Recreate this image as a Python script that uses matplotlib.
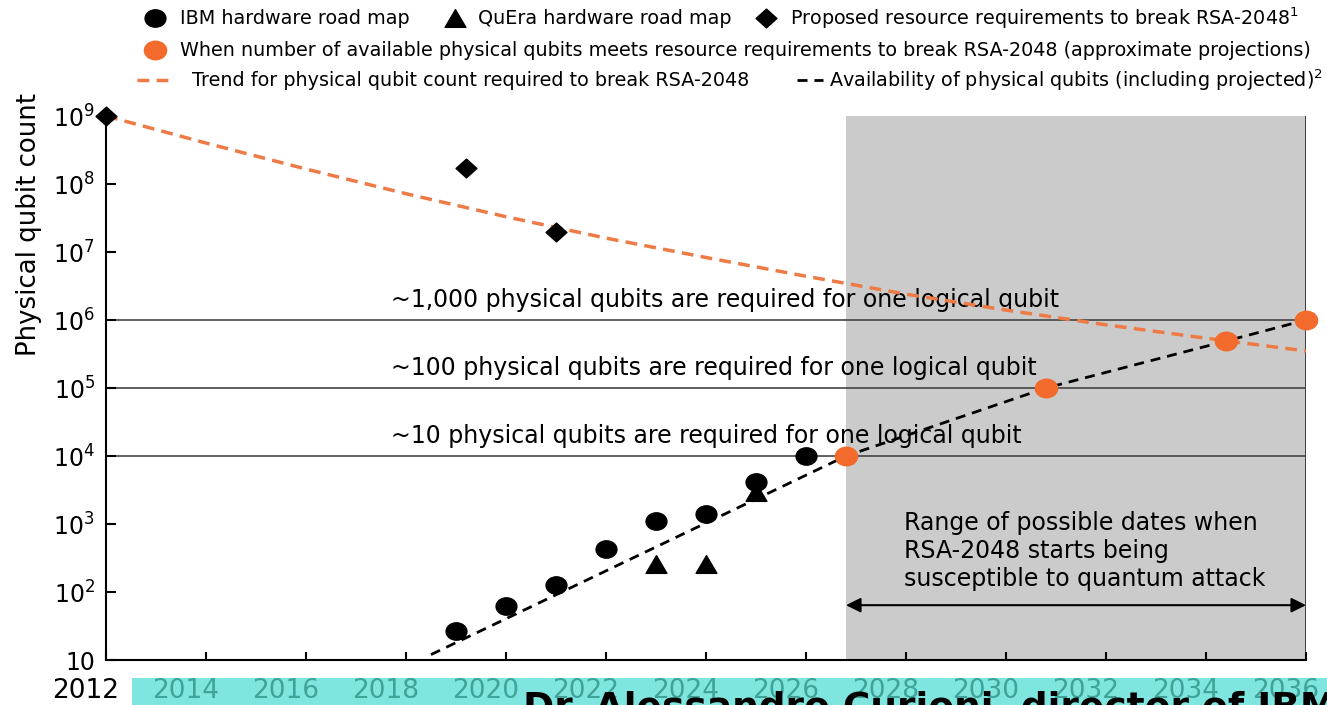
import numpy as np
import matplotlib
matplotlib.use('Agg')
import matplotlib.pyplot as plt
from matplotlib.path import Path
from matplotlib.transforms import Affine2D, ScaledTranslation
from matplotlib.patches import Rectangle
from matplotlib.lines import Line2D

# Datos
ibm_years = [2019, 2020, 2021, 2022, 2023, 2024, 2025, 2026]
ibm_qubits = [27, 62, 125, 433, 1100, 1390, 4150, 10000]

quera_years = [2023, 2024, 2025]
quera_qubits = [256, 256, 3000]

rsa_years = [2012, 2019.2, 2021]
rsa_qubits = [1e9, 1.7e8, 2e7]

meet_years = [2026.8, 2030.8, 2034.4, 2036]
meet_qubits = [1e4, 1e5, 4.9e5, 1e6]

trend_years = [2012, 2014, 2016, 2018, 2020, 2022, 2024,
               2026, 2028, 2030, 2032, 2034, 2036]
trend_qubits = [1e9, 4.0e8, 1.66e8, 7.2e7, 3.3e7, 1.6e7, 8.3e6,
                4.4e6, 2.4e6, 1.4e6, 8.5e5, 5.4e5, 3.5e5]

avail_years = [2018.5, 2026.8, 2030.8, 2034.4, 2036]
avail_qubits = [12, 1e4, 1e5, 4.9e5, 1e6]

thresholds = [1e6, 1e5, 1e4]
threshold_labels = ['~1,000 physical qubits are required for one logical qubit',
                    '~100 physical qubits are required for one logical qubit',
                    '~10 physical qubits are required for one logical qubit']

range_start, range_end = 2026.8, 2036

x_ticks = list(range(2012, 2037, 2))
y_ticks = [10, 1e2, 1e3, 1e4, 1e5, 1e6, 1e7, 1e8, 1e9]
y_ticklabels = ['10', '$10^2$', '$10^3$', '$10^4$', '$10^5$', '$10^6$',
                '$10^7$', '$10^8$', '$10^9$']

orange = '#f26a2c'
orange_line = '#ee7a45'
teal = '#3fa398'
cyan = '#7ee5df'

plt.rcParams.update({
    'font.family': 'DejaVu Sans',
    'axes.linewidth': 1.5,
})

# marcadores algo achatados, como en la imagen original
ellipse = Path.unit_circle().transformed(Affine2D().scale(1.2, 1.0))
tri = Path([(0, 0.85), (-1, -0.85), (1, -0.85), (0, 0.85)],
           [Path.MOVETO, Path.LINETO, Path.LINETO, Path.CLOSEPOLY])
diamond = Path([(0, 0.9), (1, 0), (0, -0.9), (-1, 0), (0, 0.9)],
               [Path.MOVETO, Path.LINETO, Path.LINETO, Path.LINETO, Path.CLOSEPOLY])

orange_dash = (3.4, 2.1)
black_dash = (3.6, 2.5)

W, H = 1327, 705
fig = plt.figure(figsize=(W / 100, H / 100), dpi=100)


def fx(px):
    return px / W


def fy(py):
    return 1 - py / H


ax = fig.add_axes([fx(106), fy(660), fx(1306) - fx(106), fy(116) - fy(660)])
ax.set_yscale('log')
ax.set_xlim(2012, 2036)
ax.set_ylim(10, 1e9)

# zona gris
ax.axvspan(range_start, range_end, color='#cbcbcb', zorder=0, lw=0)
ax.axvline(range_end, color='#333333', lw=1.3, zorder=1)

for yv, lab in zip(thresholds, threshold_labels):
    ax.axhline(yv, color='#444444', lw=1.2, zorder=1)
    ax.text(2017.7, yv * 10**0.19, lab, fontsize=17, ha='left',
            va='baseline', zorder=2)

ax.plot(trend_years, trend_qubits, color=orange_line, lw=2.5,
        dashes=orange_dash, zorder=3, clip_on=False)
ax.plot(avail_years, avail_qubits, color='black', lw=2,
        dashes=black_dash, zorder=3)

ax.plot(ibm_years, ibm_qubits, ls='none', marker=ellipse, ms=15,
        color='black', zorder=4)
ax.plot(quera_years, quera_qubits, ls='none', marker=tri, ms=15,
        color='black', zorder=4)
ax.plot(rsa_years, rsa_qubits, ls='none', marker=diamond, ms=15,
        color='black', zorder=4, clip_on=False)
ax.plot(meet_years, meet_qubits, ls='none', marker=ellipse, ms=16,
        color=orange, zorder=5, clip_on=False)

# flecha del rango
ax.annotate('', xy=(range_start, 64), xytext=(range_end, 64),
            arrowprops=dict(arrowstyle='<|-|>', color='black', lw=1.5,
                            mutation_scale=22, shrinkA=0, shrinkB=0),
            zorder=5)
ax.text(2027.95, 400,
        'Range of possible dates when\nRSA-2048 starts being\nsusceptible to quantum attack',
        fontsize=17, ha='left', va='center', linespacing=1.22, zorder=5)

ax.spines['top'].set_visible(False)
ax.spines['right'].set_visible(False)

ax.set_yticks(y_ticks)
ax.set_yticklabels(y_ticklabels)
ax.minorticks_off()
ax.tick_params(axis='y', direction='in', length=7, width=1.5,
               labelsize=17, pad=8)

ax.set_xticks(x_ticks)
ax.set_xticklabels([str(y) for y in x_ticks])
ax.tick_params(axis='x', direction='in', length=6, width=1.5,
               labelsize=19, pad=13)
offset = ScaledTranslation(-0.2, 0, fig.dpi_scale_trans)
for i, lab in enumerate(ax.get_xticklabels()):
    lab.set_transform(lab.get_transform() + offset)
    lab.set_color('black' if i == 0 else teal)

ax.set_ylabel('Physical qubit count', fontsize=18.7)
ax.yaxis.set_label_coords(-0.053, 0.80)

# franja cian de subtítulo
fig.add_artist(Rectangle((fx(132), 0), 1 - fx(132), fy(678),
                         transform=fig.transFigure, color=cyan, lw=0,
                         zorder=-1))
fig.text(fx(523), fy(719), 'Dr. Alessandro Curioni, director of IBM Research',
         fontsize=27, fontweight='bold', ha='left', va='baseline')

# leyenda manual
leg_fs = 13.8
rows = [18, 50, 80]
fig.add_artist(Line2D([fx(155)], [fy(rows[0])], marker=ellipse, ms=15,
                      color='black', ls='none'))
fig.text(fx(180), fy(rows[0]), 'IBM hardware road map', fontsize=leg_fs,
         va='center')
fig.add_artist(Line2D([fx(455)], [fy(rows[0])], marker=tri, ms=15,
                      color='black', ls='none'))
fig.text(fx(478), fy(rows[0]), 'QuEra hardware road map', fontsize=leg_fs,
         va='center')
fig.add_artist(Line2D([fx(766)], [fy(rows[0])], marker=diamond, ms=15,
                      color='black', ls='none'))
fig.text(fx(790), fy(rows[0]), 'Proposed resource requirements to break RSA-2048$^1$',
         fontsize=leg_fs, va='center')

fig.add_artist(Line2D([fx(155)], [fy(rows[1])], marker=ellipse, ms=16,
                      color=orange, ls='none'))
fig.text(fx(180), fy(rows[1]),
         'When number of available physical qubits meets resource requirements to break RSA-2048 (approximate projections)',
         fontsize=leg_fs, va='center')

fig.add_artist(Line2D([fx(137), fx(174)], [fy(rows[2])] * 2, color=orange_line,
                      lw=2.5, dashes=orange_dash))
fig.text(fx(192), fy(rows[2]), 'Trend for physical qubit count required to break RSA-2048',
         fontsize=leg_fs, va='center')
fig.add_artist(Line2D([fx(797), fx(823)], [fy(rows[2])] * 2, color='black',
                      lw=2, dashes=black_dash))
fig.text(fx(829), fy(rows[2]), 'Availability of physical qubits (including projected)$^2$',
         fontsize=leg_fs, va='center')

fig.savefig('out.png', dpi=100)
